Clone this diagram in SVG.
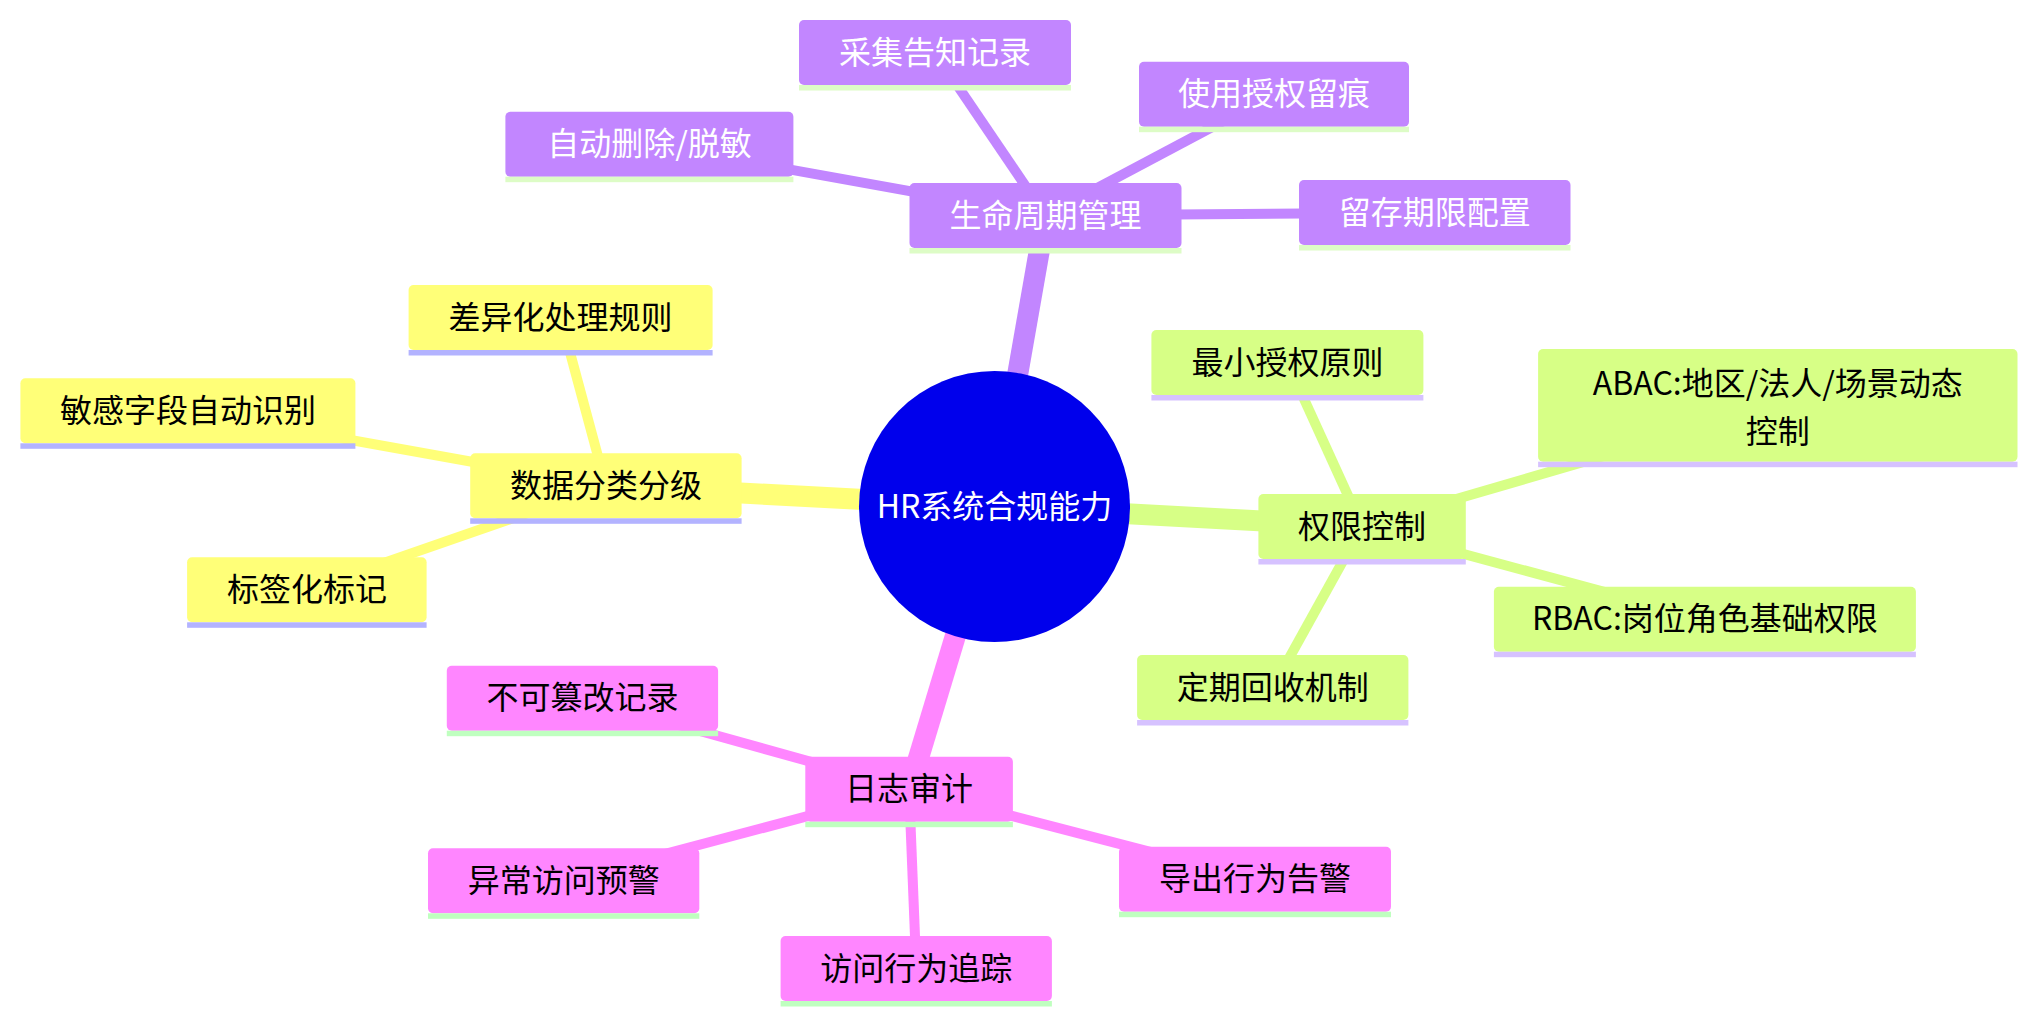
<svg xmlns="http://www.w3.org/2000/svg" width="2037" height="1023" viewBox="0 0 2037 1023">
<style>
  .e0 { stroke-width: 21; fill: none; }
  .e1 { stroke-width: 10; fill: none; }
  .cp { stroke: #c286ff; }
  .cy { stroke: #ffff78; }
  .cl { stroke: #d7ff86; }
  .ck { stroke: #ff86ff; }
  .bp { fill: #c286ff; }
  .by { fill: #ffff78; }
  .bl { fill: #d7ff86; }
  .bk { fill: #ff86ff; }
  .up { fill: #ddfcc6; }
  .uy { fill: #b3b3ff; }
  .ul { fill: #d6c2ff; }
  .uk { fill: #bfffbf; }
  text { font-family: "Noto Sans CJK SC", "Noto Sans", sans-serif; font-size: 32px; text-anchor: middle; dominant-baseline: central; }
  .tw { fill: #ffffff; }
  .tb { fill: #000000; }
</style>
<rect x="0" y="0" width="2037" height="1023" fill="#ffffff"/>
<g id="connectors">
  <line class="e0 cp" x1="994.5" y1="506.5" x2="1045.5" y2="215.5"/>
  <line class="e0 cy" x1="994.5" y1="506.5" x2="605.9" y2="485.8"/>
  <line class="e0 cl" x1="994.5" y1="506.5" x2="1362.1" y2="526.5"/>
  <line class="e0 ck" x1="994.5" y1="506.5" x2="909.1" y2="789.2"/>
  <line class="e1 cp" x1="1045.5" y1="215.5" x2="935" y2="52.5"/>
  <line class="e1 cp" x1="1045.5" y1="215.5" x2="1274" y2="94.2"/>
  <line class="e1 cp" x1="1045.5" y1="215.5" x2="649.4" y2="144.2"/>
  <line class="e1 cp" x1="1045.5" y1="215.5" x2="1434.7" y2="212.5"/>
  <line class="e1 cy" x1="605.9" y1="485.8" x2="560.6" y2="317.5"/>
  <line class="e1 cy" x1="605.9" y1="485.8" x2="187.9" y2="410.8"/>
  <line class="e1 cy" x1="605.9" y1="485.8" x2="306.9" y2="589.8"/>
  <line class="e1 cl" x1="1362.1" y1="526.5" x2="1287.4" y2="362.5"/>
  <line class="e1 cl" x1="1362.1" y1="526.5" x2="1777.8" y2="405.3"/>
  <line class="e1 cl" x1="1362.1" y1="526.5" x2="1704.9" y2="619.2"/>
  <line class="e1 cl" x1="1362.1" y1="526.5" x2="1272.8" y2="687.5"/>
  <line class="e1 ck" x1="909.1" y1="789.2" x2="582.5" y2="698.2"/>
  <line class="e1 ck" x1="909.1" y1="789.2" x2="563.7" y2="880.8"/>
  <line class="e1 ck" x1="909.1" y1="789.2" x2="1255" y2="879.2"/>
  <line class="e1 ck" x1="909.1" y1="789.2" x2="916.3" y2="968.5"/>
</g>
<g id="root">
  <circle cx="994.5" cy="506.5" r="135.5" fill="#0000ec"/>
  <text class="tw" x="994.5" y="504">HR系统合规能力</text>
</g>
<g id="lifecycle">
  <rect class="bp" x="909.5" y="183" width="272" height="65" rx="5"/>
  <rect class="up" x="909.5" y="248" width="272" height="5.5"/>
  <text class="tw" x="1045.5" y="212.5">生命周期管理</text>
</g>
<g id="collect">
  <rect class="bp" x="799" y="20" width="272" height="65" rx="5"/>
  <rect class="up" x="799" y="85" width="272" height="5.5"/>
  <text class="tw" x="935" y="49.5">采集告知记录</text>
</g>
<g id="usage">
  <rect class="bp" x="1139" y="61.7" width="270" height="65" rx="5"/>
  <rect class="up" x="1139" y="126.7" width="270" height="5.5"/>
  <text class="tw" x="1274" y="91.2">使用授权留痕</text>
</g>
<g id="autodelete">
  <rect class="bp" x="505.4" y="111.7" width="288" height="65" rx="5"/>
  <rect class="up" x="505.4" y="176.7" width="288" height="5.5"/>
  <text class="tw" x="649.4" y="141.2">自动删除/脱敏</text>
</g>
<g id="retention">
  <rect class="bp" x="1299" y="180" width="271.5" height="65" rx="5"/>
  <rect class="up" x="1299" y="245" width="271.5" height="5.5"/>
  <text class="tw" x="1434.7" y="209.5">留存期限配置</text>
</g>
<g id="classify">
  <rect class="by" x="470.2" y="453.3" width="271.4" height="65" rx="5"/>
  <rect class="uy" x="470.2" y="518.3" width="271.4" height="5.5"/>
  <text class="tb" x="605.9" y="482.8">数据分类分级</text>
</g>
<g id="diffrules">
  <rect class="by" x="408.6" y="285" width="304" height="65" rx="5"/>
  <rect class="uy" x="408.6" y="350" width="304" height="5.5"/>
  <text class="tb" x="560.6" y="314.5">差异化处理规则</text>
</g>
<g id="sensitive">
  <rect class="by" x="20.4" y="378.3" width="335" height="65" rx="5"/>
  <rect class="uy" x="20.4" y="443.3" width="335" height="5.5"/>
  <text class="tb" x="187.9" y="407.8">敏感字段自动识别</text>
</g>
<g id="tagging">
  <rect class="by" x="187.1" y="557.3" width="239.5" height="65" rx="5"/>
  <rect class="uy" x="187.1" y="622.3" width="239.5" height="5.5"/>
  <text class="tb" x="306.9" y="586.8">标签化标记</text>
</g>
<g id="access">
  <rect class="bl" x="1258.4" y="494" width="207.4" height="65" rx="5"/>
  <rect class="ul" x="1258.4" y="559" width="207.4" height="5.5"/>
  <text class="tb" x="1362.1" y="523.5">权限控制</text>
</g>
<g id="leastpriv">
  <rect class="bl" x="1151.4" y="330" width="272" height="65" rx="5"/>
  <rect class="ul" x="1151.4" y="395" width="272" height="5.5"/>
  <text class="tb" x="1287.4" y="359.5">最小授权原则</text>
</g>
<g id="abac">
  <rect class="bl" x="1538.1" y="349" width="479.4" height="112.7" rx="5"/>
  <rect class="ul" x="1538.1" y="461.7" width="479.4" height="5.5"/>
  <text class="tb" x="1777.8" y="380.5">ABAC:地区/法人/场景动态</text>
  <text class="tb" x="1777.8" y="428.5">控制</text>
</g>
<g id="rbac">
  <rect class="bl" x="1493.9" y="586.7" width="422" height="65" rx="5"/>
  <rect class="ul" x="1493.9" y="651.7" width="422" height="5.5"/>
  <text class="tb" x="1704.9" y="616.2">RBAC:岗位角色基础权限</text>
</g>
<g id="revoke">
  <rect class="bl" x="1137.1" y="655" width="271.3" height="65" rx="5"/>
  <rect class="ul" x="1137.1" y="720" width="271.3" height="5.5"/>
  <text class="tb" x="1272.8" y="684.5">定期回收机制</text>
</g>
<g id="audit">
  <rect class="bk" x="805.3" y="756.7" width="207.6" height="65" rx="5"/>
  <rect class="uk" x="805.3" y="821.7" width="207.6" height="5.5"/>
  <text class="tb" x="909.1" y="786.2">日志审计</text>
</g>
<g id="tamperproof">
  <rect class="bk" x="446.8" y="665.7" width="271.3" height="65" rx="5"/>
  <rect class="uk" x="446.8" y="730.7" width="271.3" height="5.5"/>
  <text class="tb" x="582.5" y="695.2">不可篡改记录</text>
</g>
<g id="anomaly">
  <rect class="bk" x="428" y="848.3" width="271.3" height="65" rx="5"/>
  <rect class="uk" x="428" y="913.3" width="271.3" height="5.5"/>
  <text class="tb" x="563.7" y="877.8">异常访问预警</text>
</g>
<g id="exportalert">
  <rect class="bk" x="1119" y="846.7" width="272" height="65" rx="5"/>
  <rect class="uk" x="1119" y="911.7" width="272" height="5.5"/>
  <text class="tb" x="1255" y="876.2">导出行为告警</text>
</g>
<g id="tracking">
  <rect class="bk" x="780.6" y="936" width="271.3" height="65" rx="5"/>
  <rect class="uk" x="780.6" y="1001" width="271.3" height="5.5"/>
  <text class="tb" x="916.3" y="965.5">访问行为追踪</text>
</g>
</svg>
